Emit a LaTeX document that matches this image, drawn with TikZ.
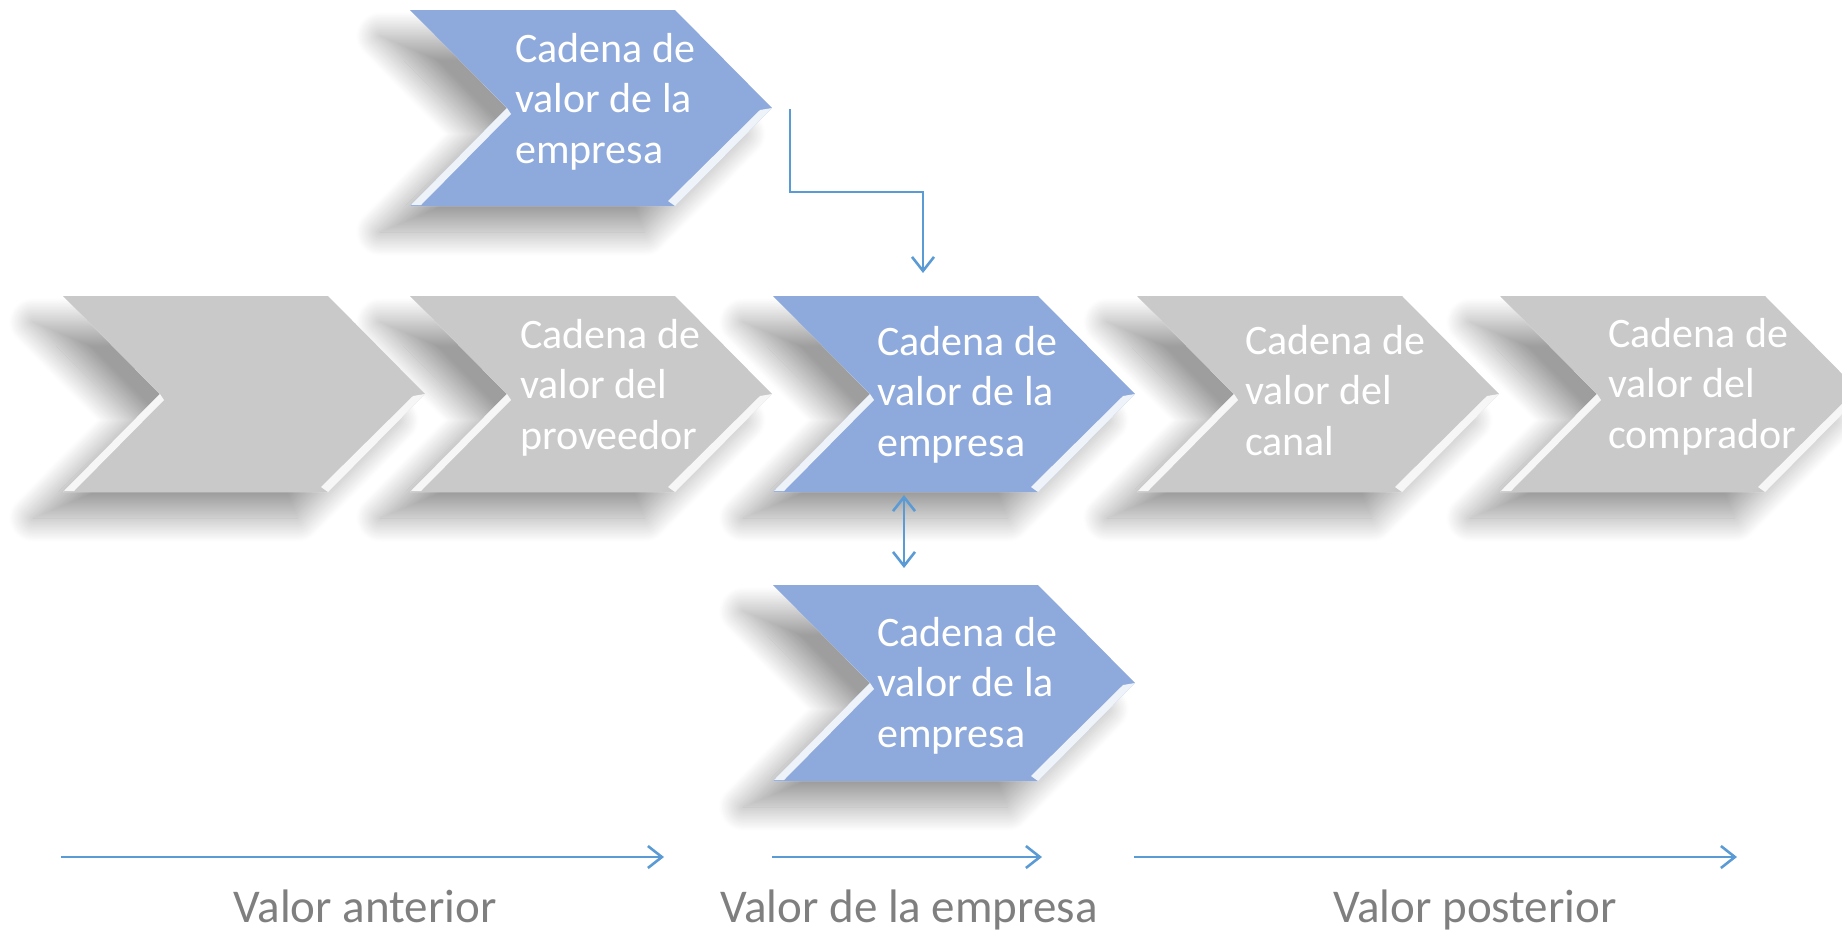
\documentclass[tikz,border=0pt]{standalone}
\usepackage{fontspec}
\setmainfont{Carlito}
\usetikzlibrary{arrows.meta,shadows.blur}
\definecolor{chevblue}{RGB}{142,169,219}
\definecolor{chevgray}{RGB}{201,201,201}
\definecolor{linkblue}{RGB}{91,155,213}
\definecolor{labelgray}{RGB}{127,127,127}
\tikzset{
  chevshadow/.style={blur shadow={shadow xshift=-30pt,shadow yshift=-26pt,shadow blur radius=24pt,shadow blur steps=40,shadow opacity=38}},
  chevtext/.style={text=white,anchor=north west,inner sep=0pt,align=left,font=\fontsize{42}{50.5}\selectfont},
  lbl/.style={text=labelgray,anchor=base,inner sep=0pt,font=\fontsize{47}{56}\selectfont},
  link/.style={linkblue,line width=2.6pt,-{Straight Barb[length=14pt,width=22pt]}}
}
\begin{document}
\begin{tikzpicture}[x=1pt,y=-1pt]
\useasboundingbox (0,0) rectangle (1842,935);
\foreach \x/\y in {63/296,410/296,773/296,1137/296,1500/296,410/10,773/585}
  \fill[white,chevshadow] (\x,\y) -- ++(265,0) -- ++(97,98) -- ++(-97,98) -- ++(-265,0) -- ++(97,-98) -- cycle;
\foreach \x/\y/\c in {63/296/chevgray,410/296/chevgray,773/296/chevblue,1137/296/chevgray,1500/296/chevgray,410/10/chevblue,773/585/chevblue}{
  \fill[\c] (\x,\y) -- ++(265,0) -- ++(97,98) -- ++(-97,98) -- ++(-265,0) -- ++(97,-98) -- cycle;
  \fill[white,opacity=.85] (\x+97,\y+98) -- (\x+1,\y+195) -- (\x+11,\y+195) -- (\x+101,\y+104) -- cycle;
  \fill[white,opacity=.85] (\x+362,\y+98) -- (\x+265,\y+196) -- (\x+258,\y+191) -- (\x+350,\y+100) -- cycle;
}
\node[chevtext] (topemp) at (515,33) {Cadena de\\valor de la\\empresa};
\node[chevtext] (prov) at (520,319) {Cadena de\\valor del\\proveedor};
\node[chevtext] (midemp) at (877,326) {Cadena de\\valor de la\\empresa};
\node[chevtext] (canal) at (1245,325) {Cadena de\\valor del\\canal};
\node[chevtext] (comp) at (1608,318) {Cadena de\\valor del\\comprador};
\node[chevtext] (lowemp) at (877,617) {Cadena de\\valor de la\\empresa};
\coordinate (bendstart) at (790,109);
\coordinate (bendmid) at (923,192);
\coordinate (bendend) at (923,273);
\draw[link] (bendstart) |- (bendmid) -- (bendend);
\coordinate (pairtop) at (904,495);
\coordinate (pairbot) at (904,568);
\draw[link,{Straight Barb[length=14pt,width=22pt]}-{Straight Barb[length=14pt,width=22pt]}] (pairtop) -- (pairbot);
\node[lbl] (anterior) at (365,922) {Valor anterior};
\node[lbl] (empresa) at (909,922) {Valor de la empresa};
\node[lbl] (posterior) at (1475,922) {Valor posterior};
\coordinate (antstart) at (61,857);
\coordinate (antend) at (664,857);
\coordinate (empstart) at (772,857);
\coordinate (empend) at (1042,857);
\coordinate (posstart) at (1134,857);
\coordinate (posend) at (1737,857);
\draw[link] (antstart) -- (antend);
\draw[link] (empstart) -- (empend);
\draw[link] (posstart) -- (posend);
\end{tikzpicture}
\end{document}
